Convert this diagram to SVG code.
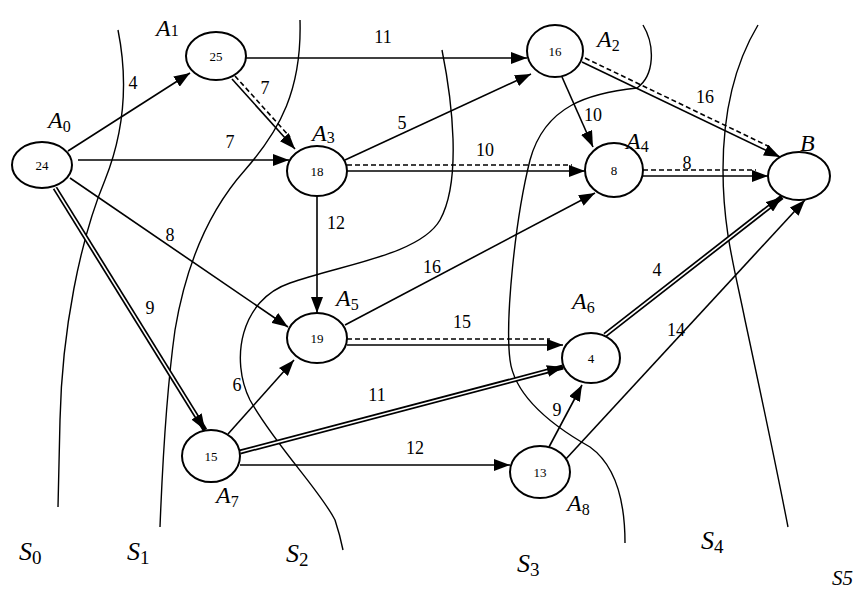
<svg xmlns="http://www.w3.org/2000/svg" width="865" height="592" viewBox="0 0 865 592">
<style>
.cut{fill:none;stroke:#000;stroke-width:1.4}
.e{fill:none;stroke:#000;stroke-width:1.6}
.dbl{fill:none;stroke:#000;stroke-width:5}
.gap{fill:none;stroke:#fff;stroke-width:1.6}
.dash{fill:none;stroke:#000;stroke-width:1.6;stroke-dasharray:5 3}
.node{fill:#fff;stroke:#000;stroke-width:2}
.num{font-family:"Liberation Serif",serif;font-size:13px;text-anchor:middle;fill:#000}
.lbl{font-family:"Liberation Serif",serif;font-size:18px;text-anchor:middle}
.nl{font-family:"Liberation Serif",serif;font-size:24px;font-style:italic}
.sub{font-style:normal;font-size:16px}
.sl{font-family:"Liberation Serif",serif;font-size:26px;font-style:italic}
.ssub{font-style:normal;font-size:19px}
</style>
<defs>
<marker id="ah" markerUnits="userSpaceOnUse" markerWidth="16" markerHeight="12" refX="16" refY="6" orient="auto">
<path d="M0,0 L16,6 L0,12 z" fill="#000"/>
</marker>
</defs>
<rect width="865" height="592" fill="#fff"/>

<g id="cuts">
<path class="cut" d="M118,30 C128,80 125,130 105,180 C80,240 62,330 60,420 L58,507"/>
<path class="cut" d="M300,20 C302,90 280,130 245,170 C205,215 185,270 175,330 C168,380 163,450 160,527"/>
<path class="cut" d="M442,50 C452,100 462,180 440,220 C420,255 340,265 290,283 C240,300 230,360 250,400 C275,445 320,490 335,520 C340,535 342,545 343,550"/>
<path class="cut" d="M643,25 C655,45 655,75 637,88 C590,93 545,105 530,160 C515,220 505,320 510,360 C515,400 560,430 590,447 C615,465 625,500 625,543"/>
<path class="cut" d="M758,25 C740,55 723,100 723,170 C723,230 735,270 745,320 C760,390 775,460 788,527"/>
</g>

<g id="connectors">
<line class="e" x1="68" y1="151" x2="190" y2="73" marker-end="url(#ah)"/>
<line class="e" x1="78" y1="160" x2="289" y2="160" marker-end="url(#ah)"/>
<line class="e" x1="70" y1="178" x2="288" y2="327" marker-end="url(#ah)"/>
<line class="dbl" x1="55" y1="188" x2="205" y2="430" marker-end="url(#ah)"/>
<line class="gap" x1="55" y1="188" x2="196.6" y2="416.4"/>
<line class="e" x1="246" y1="58" x2="527" y2="58" marker-end="url(#ah)"/>
<line class="e" x1="232" y1="79" x2="295" y2="149" marker-end="url(#ah)"/>
<line class="dash" x1="235" y1="76" x2="290" y2="137"/>
<line class="e" x1="345" y1="160" x2="531" y2="74" marker-end="url(#ah)"/>
<line class="e" x1="347" y1="171" x2="585" y2="171" marker-end="url(#ah)"/>
<line class="dash" x1="347" y1="165" x2="572" y2="165"/>
<line class="e" x1="317" y1="196" x2="317" y2="313" marker-end="url(#ah)"/>
<line class="e" x1="562" y1="77" x2="593" y2="147" marker-end="url(#ah)"/>
<line class="e" x1="582" y1="62" x2="780" y2="157" marker-end="url(#ah)"/>
<line class="dash" x1="585" y1="58" x2="770" y2="147"/>
<line class="e" x1="643" y1="176" x2="768" y2="176" marker-end="url(#ah)"/>
<line class="dash" x1="643" y1="170" x2="756" y2="170"/>
<line class="e" x1="345" y1="325" x2="595" y2="193" marker-end="url(#ah)"/>
<line class="e" x1="347" y1="345" x2="563" y2="345" marker-end="url(#ah)"/>
<line class="dash" x1="347" y1="339" x2="550" y2="339"/>
<line class="dbl" x1="605" y1="335" x2="782" y2="197" marker-end="url(#ah)"/>
<line class="gap" x1="605" y1="335" x2="769.4" y2="206.8"/>
<line class="e" x1="565" y1="460" x2="805" y2="200" marker-end="url(#ah)"/>
<line class="e" x1="228" y1="434" x2="294" y2="360" marker-end="url(#ah)"/>
<line class="dbl" x1="240" y1="452" x2="563" y2="367" marker-end="url(#ah)"/>
<line class="gap" x1="240" y1="452" x2="547.5" y2="371.1"/>
<line class="e" x1="240" y1="465" x2="510" y2="465" marker-end="url(#ah)"/>
<line class="e" x1="549" y1="447" x2="582" y2="385" marker-end="url(#ah)"/>
</g>

<g id="edge-labels">
<text class="lbl" x="133" y="89">4</text>
<text class="lbl" x="230" y="148">7</text>
<text class="lbl" x="265" y="94">7</text>
<text class="lbl" x="170" y="241">8</text>
<text class="lbl" x="150" y="314">9</text>
<text class="lbl" x="383" y="43">11</text>
<text class="lbl" x="402" y="129">5</text>
<text class="lbl" x="485" y="156">10</text>
<text class="lbl" x="336" y="229">12</text>
<text class="lbl" x="593" y="121">10</text>
<text class="lbl" x="705" y="103">16</text>
<text class="lbl" x="687" y="169">8</text>
<text class="lbl" x="432" y="273">16</text>
<text class="lbl" x="462" y="328">15</text>
<text class="lbl" x="657" y="276">4</text>
<text class="lbl" x="676" y="336">14</text>
<text class="lbl" x="237" y="391">6</text>
<text class="lbl" x="377" y="401">11</text>
<text class="lbl" x="415" y="454">12</text>
<text class="lbl" x="557" y="416">9</text>
</g>

<g id="A0"><ellipse class="node" cx="42" cy="165" rx="30" ry="23"/><text class="num" x="42" y="170">24</text><text class="nl" x="48" y="128">A<tspan class="sub" dy="4">0</tspan></text></g>
<g id="A1"><ellipse class="node" cx="216" cy="56" rx="30" ry="24"/><text class="num" x="216" y="61">25</text><text class="nl" x="156" y="36">A<tspan class="sub" dy="0">1</tspan></text></g>
<g id="A2"><ellipse class="node" cx="555" cy="51" rx="28" ry="26"/><text class="num" x="555" y="56">16</text><text class="nl" x="597" y="47">A<tspan class="sub" dy="4">2</tspan></text></g>
<g id="A3"><ellipse class="node" cx="317" cy="171" rx="30" ry="25"/><text class="num" x="317" y="176">18</text><text class="nl" x="312" y="141">A<tspan class="sub" dy="2">3</tspan></text></g>
<g id="A4"><ellipse class="node" cx="614" cy="170" rx="29" ry="27"/><text class="num" x="614" y="175">8</text><text class="nl" x="626" y="149">A<tspan class="sub" dy="3">4</tspan></text></g>
<g id="B"><ellipse class="node" cx="799" cy="176" rx="31" ry="24"/><text class="nl" x="800" y="151">B</text></g>
<g id="A5"><ellipse class="node" cx="317" cy="338" rx="30" ry="25"/><text class="num" x="317" y="343">19</text><text class="nl" x="336" y="306">A<tspan class="sub" dy="4">5</tspan></text></g>
<g id="A6"><ellipse class="node" cx="591" cy="358" rx="29" ry="25"/><text class="num" x="591" y="363">4</text><text class="nl" x="572" y="309">A<tspan class="sub" dy="4">6</tspan></text></g>
<g id="A7"><ellipse class="node" cx="211" cy="456" rx="29" ry="26"/><text class="num" x="211" y="461">15</text><text class="nl" x="216" y="503">A<tspan class="sub" dy="4">7</tspan></text></g>
<g id="A8"><ellipse class="node" cx="540" cy="472" rx="30" ry="26"/><text class="num" x="540" y="477">13</text><text class="nl" x="567" y="511">A<tspan class="sub" dy="4">8</tspan></text></g>

<g id="cut-labels">
<text class="sl" x="19" y="560">S<tspan class="ssub" dy="4">0</tspan></text>
<text class="sl" x="127" y="560">S<tspan class="ssub" dy="4">1</tspan></text>
<text class="sl" x="286" y="562">S<tspan class="ssub" dy="4">2</tspan></text>
<text class="sl" x="517" y="572">S<tspan class="ssub" dy="4">3</tspan></text>
<text class="sl" x="701" y="549">S<tspan class="ssub" dy="4">4</tspan></text>
<text class="sl" x="832" y="585" style="font-size:21px">S5</text>
</g>
</svg>
